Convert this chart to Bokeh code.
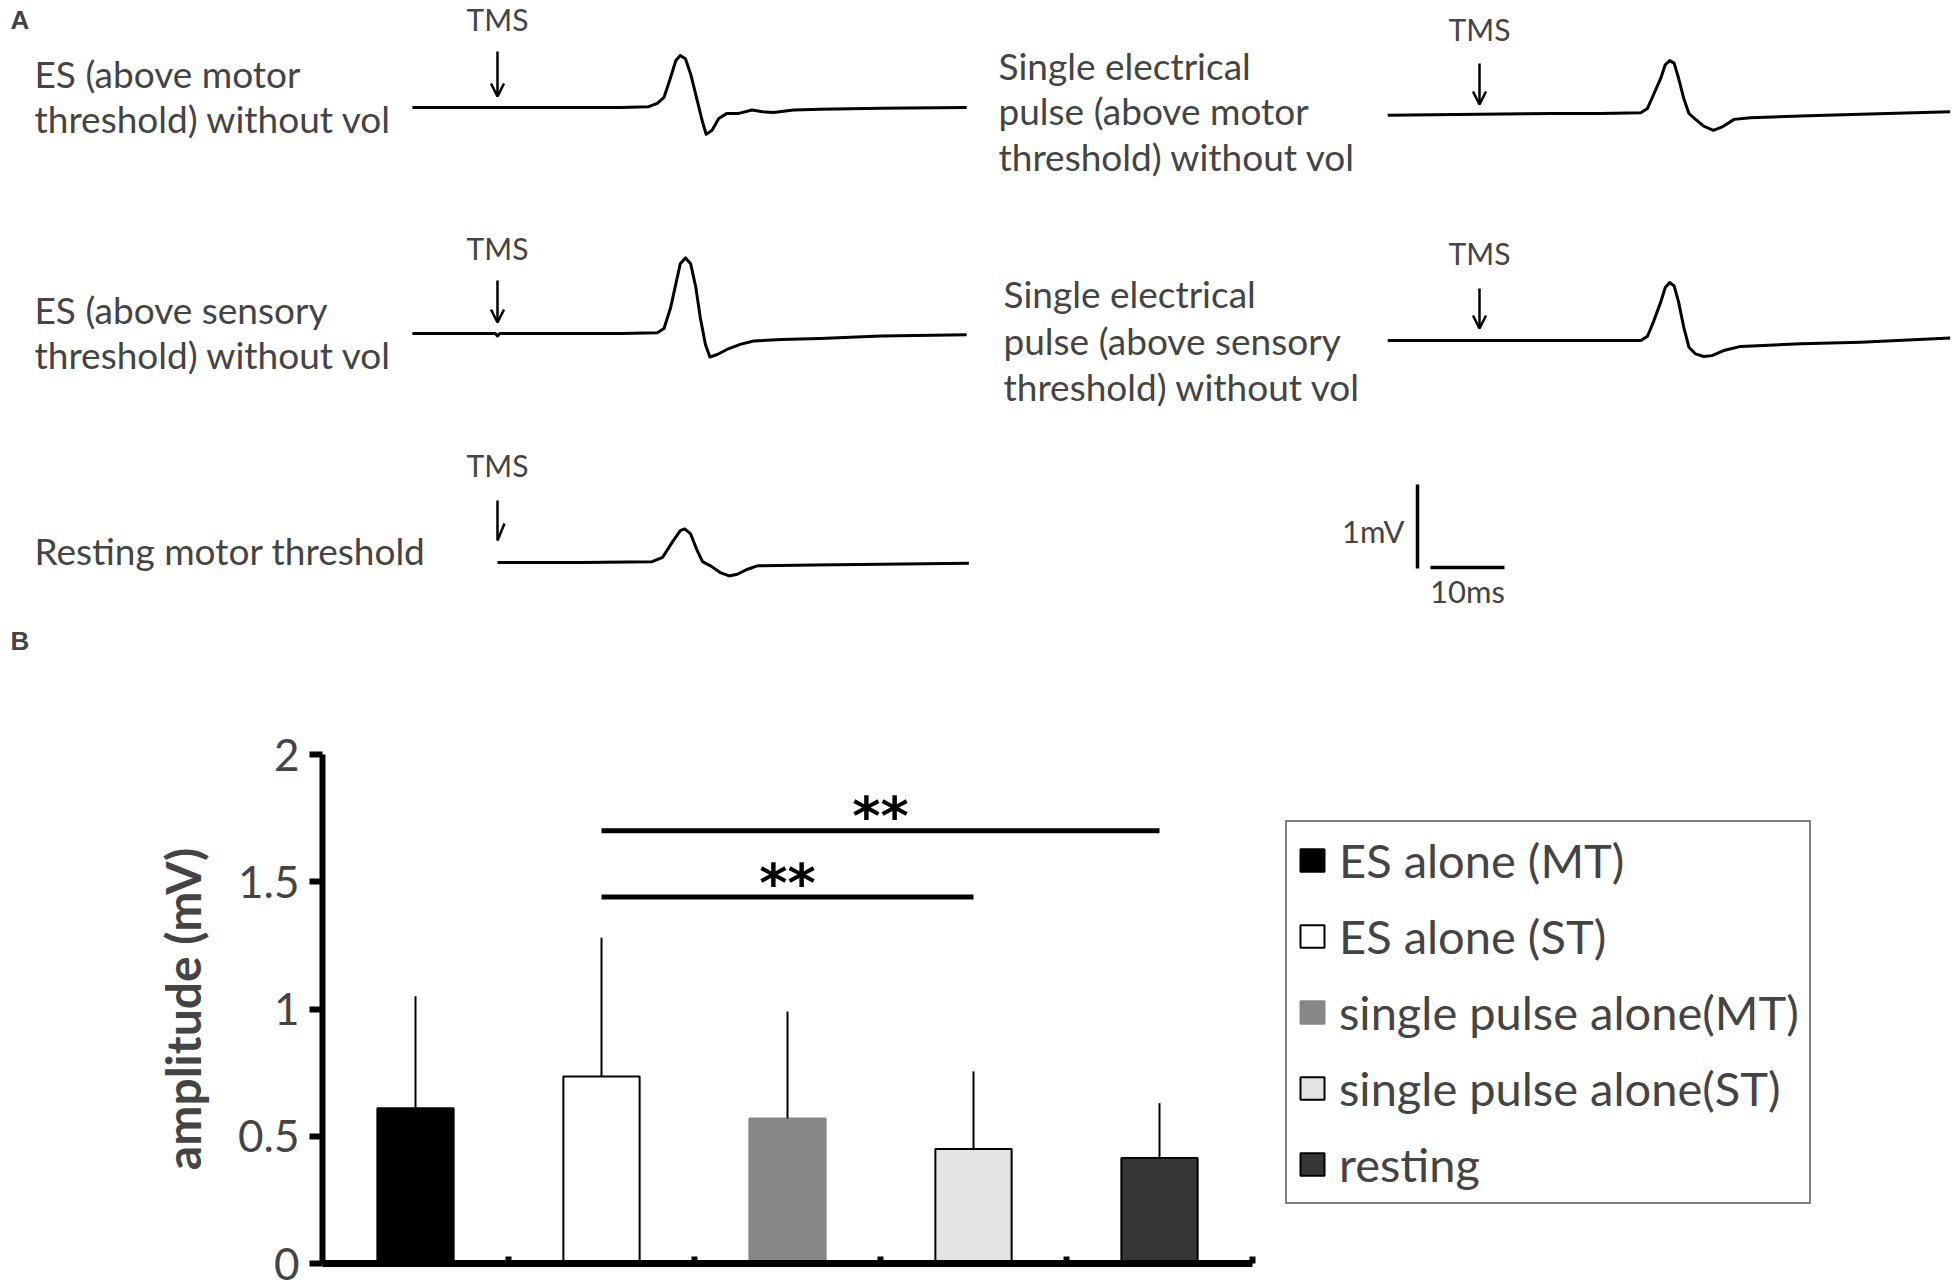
import numpy as np
from bokeh.plotting import figure
from bokeh.models import (Range1d, Label, Arrow, OpenHead, ColumnDataSource, LinearAxis,
                          FixedTicker, Legend, LegendItem)
from bokeh.layouts import column
from bokeh.embed import file_html
from bokeh.resources import INLINE
from bokeh.core.properties import value

# ---------------- Panel A data: MEP traces (ms after TMS, mV) ----------------
t_es_mt = [-11.5, 0.0, 10.0, 16.6, 20.4, 21.6, 22.5, 23.4, 24.1, 24.7, 25.4, 26.1, 27.0,
           27.7, 28.2, 29.0, 29.9, 31.0, 32.6, 34.4, 35.8, 37.3, 40.0, 43.6, 51.8, 63.4]
v_es_mt = [0.0, 0.0, 0.0, 0.0, 0.01, 0.05, 0.12, 0.36, 0.56, 0.62, 0.58, 0.40, 0.08,
           -0.17, -0.32, -0.27, -0.13, -0.07, -0.07, -0.03, -0.05, -0.06, -0.03, -0.02, -0.01, 0.0]

t_sp_mt = [-12.4, 0.0, 10.0, 16.4, 21.8, 22.7, 23.5, 24.5, 25.1, 25.7, 26.3, 26.9, 27.6,
           28.3, 29.2, 30.3, 31.6, 32.8, 34.4, 36.6, 43.4, 51.5, 63.6]
v_sp_mt = [-0.02, -0.01, 0.0, 0.0, 0.01, 0.06, 0.22, 0.42, 0.58, 0.63, 0.60, 0.42, 0.18,
           0.0, -0.07, -0.15, -0.20, -0.16, -0.07, -0.05, -0.03, -0.01, 0.02]

t_es_st = [-11.5, -0.3, 0.0, 0.3, 10.0, 16.6, 21.6, 22.5, 23.4, 24.1, 24.7, 25.4, 26.1,
           26.8, 27.4, 28.1, 28.7, 29.7, 31.0, 32.8, 34.6, 38.3, 43.6, 51.8, 63.4]
v_es_st = [0.0, 0.0, -0.03, 0.0, 0.0, 0.0, 0.01, 0.06, 0.31, 0.59, 0.83, 0.90, 0.83,
           0.55, 0.19, -0.13, -0.28, -0.25, -0.19, -0.13, -0.09, -0.07, -0.06, -0.03, -0.015]

t_sp_st = [-12.4, 0.0, 10.0, 16.4, 21.8, 22.7, 23.5, 24.5, 25.1, 25.7, 26.3, 26.9, 27.6,
           28.3, 29.2, 30.3, 31.4, 33.0, 35.3, 43.4, 51.5, 63.6]
v_sp_st = [0.0, 0.0, 0.0, 0.0, 0.0, 0.05, 0.22, 0.46, 0.63, 0.69, 0.65, 0.46, 0.16,
           -0.08, -0.16, -0.19, -0.18, -0.12, -0.07, -0.04, -0.02, 0.03]

t_rest = [0.0, 11.2, 20.9, 22.3, 23.6, 24.7, 25.3, 26.1, 26.9, 27.7, 28.8, 30.1, 31.3,
          32.4, 33.8, 35.1, 42.8, 63.7]
v_rest = [0.0, 0.0, 0.01, 0.06, 0.24, 0.38, 0.40, 0.34, 0.16, 0.01, -0.04, -0.12, -0.16,
          -0.14, -0.08, -0.04, -0.03, -0.01]

scale_ms = 10
scale_mv = 1
scale_labels = ["1mV", "10ms"]

# ---------------- Panel B data ----------------
categories = ["ES alone (MT)", "ES alone (ST)", "single pulse alone(MT)",
              "single pulse alone(ST)", "resting"]
means = [0.61, 0.735, 0.57, 0.45, 0.415]
sds = [0.44, 0.545, 0.42, 0.305, 0.215]
bar_colors = ["#000000", "#FFFFFF", "#878787", "#E3E3E3", "#363636"]
bar_edges = ["#000000", "#000000", "#878787", "#000000", "#000000"]
sig_from = [1, 1]
sig_to = [4, 3]
sig_y = [1.70, 1.44]
sig_text = ["**", "**"]
y_ticks = [0, 0.5, 1, 1.5, 2]
y_tick_labels = ["0", "0.5", "1", "1.5", "2"]

# ---------------- layout constants (page pixels) ----------------
W = 1960
HA = 620
HB = 1287 - HA
PX_MS = 7.4
PX_MV = 84.0
TMS_LEFT_X = 497
ZERO_Y = 562
FONT = "Lato"


def ax(rx):
    return (rx - TMS_LEFT_X) / PX_MS


def ay(ry):
    return (ZERO_Y - ry) / PX_MV


pa = figure(width=W, height=HA, x_range=Range1d(ax(0), ax(W)),
            y_range=Range1d(ay(HA), ay(0)), x_axis_type=None, y_axis_type=None,
            output_backend="svg", toolbar_location=None, min_border=0)
pa.grid.visible = False
pa.outline_line_color = None

col_x = {"L": 0.0, "R": ax(1479)}
traces = [
    (t_es_mt, v_es_mt, "L", 107),
    (t_sp_mt, v_sp_mt, "R", 113),
    (t_es_st, v_es_st, "L", 333),
    (t_sp_st, v_sp_st, "R", 340),
    (t_rest, v_rest, "L", 562),
]
for t, v, c, base in traces:
    pa.line(np.array(t) + col_x[c], np.array(v) + ay(base), line_color="black",
            line_width=3, line_join="round")

# TMS markers: (column, label centre y, arrow top y, arrow bottom y)
tms_marks = [("L", 18, 51, 96), ("R", 28, 63, 104), ("L", 247, 280, 322), ("R", 252, 288, 328)]
for c, ly, y0, y1 in tms_marks:
    pa.add_layout(Label(x=col_x[c], y=ay(ly), text="TMS", text_font=FONT,
                        text_font_size="30px", text_align="center", text_baseline="middle"))
    pa.add_layout(Arrow(end=OpenHead(size=13, line_width=2.5, line_color="black"),
                        x_start=col_x[c], y_start=ay(y0), x_end=col_x[c], y_end=ay(y1),
                        line_width=2.5, line_color="black"))
pa.add_layout(Label(x=0, y=ay(464), text="TMS", text_font=FONT, text_font_size="30px",
                    text_align="center", text_baseline="middle"))
pa.segment(x0=[0, 0], y0=[ay(500), ay(540)], x1=[0, ax(504)], y1=[ay(540), ay(523)],
           line_color="black", line_width=2.5)

row_labels = [
    (34, [73, 118], ["ES (above motor", "threshold) without vol"]),
    (998, [65, 110, 156], ["Single  electrical", "pulse (above motor", "threshold) without vol"]),
    (34, [309, 354], ["ES (above sensory", "threshold) without vol"]),
    (1003, [293, 340, 386], ["Single  electrical", "pulse (above  sensory", "threshold) without vol"]),
    (34, [550], ["Resting motor threshold"]),
]
for lx, lys, texts in row_labels:
    for ly, tx in zip(lys, texts):
        pa.add_layout(Label(x=ax(lx), y=ay(ly), text=tx, text_font=FONT,
                            text_font_size="37px", text_align="left", text_baseline="middle"))

# scale bar
sb_x, sb_y = ax(1417), ay(568)
pa.segment(x0=[sb_x], y0=[sb_y], x1=[sb_x], y1=[sb_y + scale_mv], line_color="black", line_width=3.5)
hx0 = ax(1430)
pa.segment(x0=[hx0], y0=[ay(567)], x1=[hx0 + scale_ms], y1=[ay(567)], line_color="black", line_width=3.5)
pa.add_layout(Label(x=ax(1404), y=ay(530), text=scale_labels[0], text_font=FONT,
                    text_font_size="31px", text_align="right", text_baseline="middle"))
pa.add_layout(Label(x=hx0 + scale_ms / 2, y=ay(590), text=scale_labels[1], text_font=FONT,
                    text_font_size="31px", text_align="center", text_baseline="middle"))
pa.add_layout(Label(x=ax(10), y=ay(19), text="A", text_font="Liberation Sans",
                    text_font_style="bold", text_font_size="26px", text_align="left",
                    text_baseline="middle"))

# ---------------- Panel B ----------------
CAT_PX = 186.0          # pixels per category
AXIS_X = 322            # page x of the value axis
V_PX = 254.5            # pixels per mV
ZERO_PAGE_Y = 1263      # page y of 0 mV


def bx(px):
    return -0.5 + (px - AXIS_X) / CAT_PX


def by(py):
    return (ZERO_PAGE_Y - py) / V_PX


pb = figure(width=W, height=HB, x_range=Range1d(bx(0), bx(W)), y_range=Range1d(by(1287), by(HA)),
            x_axis_type=None, y_axis_type=None, output_backend="svg", toolbar_location=None,
            min_border=0)
pb.grid.visible = False
pb.outline_line_color = None

xs = list(range(len(categories)))
src = ColumnDataSource(dict(x=xs, top=means, sd_top=[m + s for m, s in zip(means, sds)],
                            fill=bar_colors, edge=bar_edges, cat=categories))
bars = pb.vbar(x="x", top="top", width=0.41, bottom=0, fill_color="fill", line_color="edge",
               line_width=2, source=src)
pb.segment(x0="x", y0="top", x1="x", y1="sd_top", line_color="black", line_width=2, source=src)

sig_src = ColumnDataSource(dict(x0=sig_from, x1=sig_to, y=sig_y, text=sig_text,
                                xm=[(a + b) / 2 for a, b in zip(sig_from, sig_to)]))
pb.segment(x0="x0", y0="y", x1="x1", y1="y", line_color="black", line_width=5, source=sig_src)
pb.text(x="xm", y="y", text="text", source=sig_src, text_font=value("DejaVu Sans"),
        text_font_style="bold", text_font_size="54px", text_align="center",
        text_baseline="middle", y_offset=-14)

yax = LinearAxis(fixed_location=-0.5, bounds=(0, 2), ticker=FixedTicker(ticks=y_ticks))
yax.major_label_overrides = {k: v for k, v in zip(y_ticks, y_tick_labels)}
yax.minor_tick_line_color = None
yax.major_tick_out = 13
yax.major_tick_in = 0
yax.major_tick_line_width = 6
yax.axis_line_width = 6
yax.major_label_text_font = FONT
yax.major_label_text_font_size = "44px"
yax.major_label_standoff = 10
yax.axis_label = "amplitude (mV)"
yax.axis_label_text_font = FONT
yax.axis_label_text_font_style = "bold"
yax.axis_label_text_font_size = "48px"
yax.axis_label_standoff = 24
pb.add_layout(yax, "left")

# category boundary marks on the baseline (no labels)
xax = LinearAxis(fixed_location=0, bounds=(-0.5, len(categories) - 0.5),
                 ticker=FixedTicker(ticks=[], minor_ticks=[i + 0.5 for i in xs]))
xax.minor_tick_in = 7
xax.minor_tick_out = 0
xax.minor_tick_line_width = 6
xax.minor_tick_line_color = "black"
xax.major_tick_line_color = None
xax.axis_line_width = 7
pb.add_layout(xax, "below")

legend = Legend(items=[LegendItem(label=c, renderers=[bars], index=i) for i, c in enumerate(categories)],
                location=(1285, 1287 - 1204), orientation="vertical",
                label_text_font=FONT, label_text_font_size="47px", glyph_width=30,
                glyph_height=28, label_height=54, spacing=20, padding=10, label_standoff=12,
                border_line_color="black", border_line_width=2, background_fill_alpha=1,
                margin=0)
pb.add_layout(legend)

pb.add_layout(Label(x=bx(10), y=by(640), text="B", text_font="Liberation Sans",
                    text_font_style="bold", text_font_size="26px", text_align="left",
                    text_baseline="middle"))

layout = column(pa, pb, spacing=0)
open("out.html", "w").write(file_html(layout, INLINE))
